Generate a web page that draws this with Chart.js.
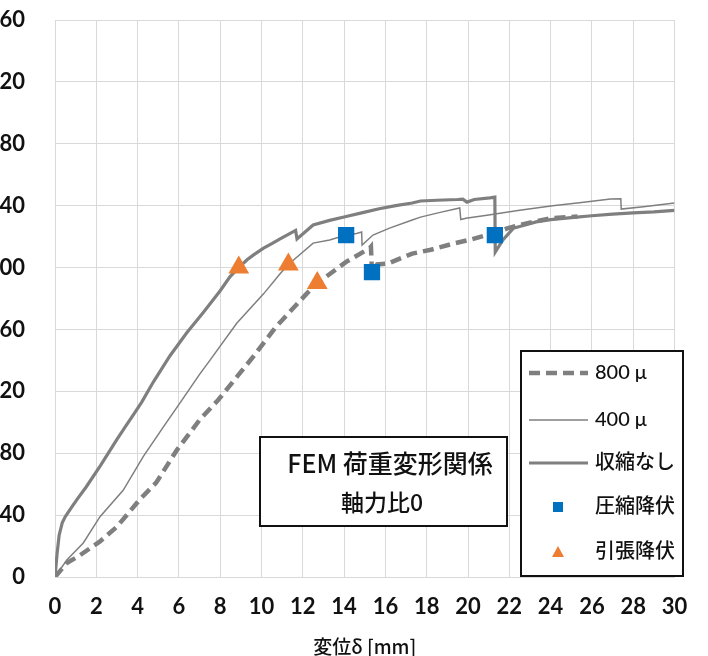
<!DOCTYPE html>
<html lang="ja">
<head>
<meta charset="utf-8">
<script src="https://cdn.jsdelivr.net/npm/chart.js@4.4.0/dist/chart.umd.min.js"></script>
<style>
html, body { margin: 0; padding: 0; width: 708px; height: 656px; overflow: hidden; background: #fff; }
#wrap { position: absolute; left: -14px; top: 0; width: 722px; height: 670px; }
</style>
</head>
<body>
<div id="wrap"><canvas id="myChart" width="722" height="670"></canvas></div>
<script>
// tick values
const xTickValues = [0, 2, 4, 6, 8, 10, 12, 14, 16, 18, 20, 22, 24, 26, 28, 30];
const yTickValues = [0, 40, 80, 120, 160, 200, 240, 280, 320, 360];

// 収縮なし
const dispNone = [0, 0.1, 0.2, 0.35, 0.5, 0.8, 1.06, 1.5, 2.2, 3.0, 3.4, 3.8, 4.2, 4.76, 5.57, 6.39, 7.18, 8.0, 8.47, 8.9, 9.3, 9.6, 10.1, 10.5, 10.9, 11.3, 11.65, 11.72, 12.5, 13.3, 14.1, 14.9, 15.7, 16.5, 17.3, 17.7, 18.5, 19.5, 19.75, 19.95, 20.3, 21.06, 21.3, 21.32, 21.7, 22.2, 22.5, 23.3, 24.0, 25.0, 26.0, 27.0, 28.0, 29.0, 30.0];
const loadNone = [0, 15, 27, 35, 39, 45, 50, 58, 72, 89, 97, 105, 113, 126, 143, 158, 171, 185, 194, 200, 205, 208, 212.5, 215.5, 218.5, 221.5, 224, 218.5, 227.5, 230.5, 233, 235.5, 238, 240, 241.7, 243, 243.5, 244, 244.2, 242.3, 244, 245, 245.5, 210, 218, 225.5, 226.5, 229.5, 231, 232.3, 233.5, 234.5, 235.3, 236, 237];

// 400μ
const disp400 = [0, 0.57, 1.37, 2.18, 3.3, 4.28, 5.25, 6.13, 7.0, 7.5, 8.8, 10.1, 10.9, 11.3, 12.5, 13.3, 14.1, 14.6, 14.85, 14.87, 15.4, 16.2, 17.3, 17.7, 18.6, 19.6, 19.65, 19.9, 21.0, 22.5, 24.1, 25.5, 26.9, 27.4, 27.42, 28.5, 30.0];
const load400 = [0, 11, 22, 39, 56, 78, 97, 114, 131, 140, 164, 183, 196, 202, 215.8, 217.8, 221, 222, 223, 214.5, 221, 225.5, 230.7, 232.6, 235.5, 238.5, 231, 231.8, 234, 237, 240, 242, 244.3, 244.5, 237.8, 239.3, 241.7];

// 800μ
const disp800 = [0, 0.57, 1.2, 2.18, 3.0, 4.1, 4.9, 5.9, 7.0, 7.9, 9.6, 10.7, 11.0, 12.2, 12.7, 14.1, 15.25, 15.3, 15.35, 15.6, 16.1, 17.3, 18.2, 19.3, 20.1, 20.9, 21.3, 21.9, 22.5, 23.3, 24.1, 25.3];
const load800 = [0, 9, 14, 23, 32.5, 50, 61, 82, 101.5, 114.4, 142.4, 161.7, 166, 183.3, 189.8, 203.7, 212.6, 213.4, 197, 202, 202.5, 209, 211.5, 215.5, 218, 221, 222, 225.3, 227.5, 230, 232, 233];

// 圧縮降伏 / 引張降伏
const compYieldDisp = [14.1, 15.35, 21.3];
const compYieldLoad = [221, 197, 221];
const tensYieldDisp = [8.9, 11.3, 12.7];
const tensYieldLoad = [200, 202, 190];

const gray = '#7f7f7f';
const blue = '#0070c0';
const orange = '#ed7d31';

function pts(xs, ys) {
  return xs.map((x, i) => ({ x: x, y: ys[i] }));
}

const canvas = document.getElementById('myChart');
const ctx = canvas.getContext('2d');

// white box with the title text
const noteBox = {
  id: 'noteBox',
  afterDraw(chart) {
    const c = chart.ctx;
    c.save();
    c.fillStyle = '#fff';
    c.fillRect(274, 437, 247, 89);
    c.lineWidth = 2;
    c.strokeStyle = '#111';
    c.strokeRect(274, 437, 247, 89);
    c.fillStyle = '#111';
    c.textAlign = 'center';
    c.textBaseline = 'middle';
    c.font = "500 25px 'Noto Sans CJK JP'";
    c.fillText('FEM 荷重変形関係', 404, 463);
    c.font = "500 23px 'Noto Sans CJK JP'";
    c.fillText('軸力比0', 396, 502);
    c.restore();
  }
};

// legend drawn inside the plot, excel style
const boxLegend = {
  id: 'boxLegend',
  afterDraw(chart) {
    const c = chart.ctx;
    const rows = [373, 420, 463, 507, 552];
    const order = [2, 1, 0, 3, 4];
    c.save();
    c.fillStyle = '#fff';
    c.fillRect(535, 351, 162, 225);
    c.lineWidth = 2;
    c.strokeStyle = '#111';
    c.strokeRect(535, 351, 162, 225);
    c.font = "500 20px 'Lato', 'Noto Sans CJK JP'";
    c.textBaseline = 'middle';
    c.textAlign = 'left';
    order.forEach((di, r) => {
      const ds = chart.data.datasets[di];
      const y = rows[r];
      if (ds.showLine) {
        c.beginPath();
        c.setLineDash(ds.borderDash || []);
        c.lineWidth = ds.borderWidth;
        c.strokeStyle = ds.borderColor;
        c.moveTo(543, y);
        c.lineTo(602, y);
        c.stroke();
        c.setLineDash([]);
      } else {
        c.fillStyle = ds.backgroundColor;
        if (ds.pointStyle === 'rect') {
          c.fillRect(567, y - 5, 10, 10);
        } else {
          c.beginPath();
          c.moveTo(572, y - 6);
          c.lineTo(578, y + 5);
          c.lineTo(566, y + 5);
          c.closePath();
          c.fill();
        }
      }
      c.fillStyle = '#111';
      c.fillText(ds.label, 609, y);
    });
    c.restore();
  }
};

const data = {
  datasets: [
    { label: '収縮なし', data: pts(dispNone, loadNone), showLine: true, borderColor: gray, borderWidth: 3.2, pointRadius: 0, order: 3 },
    { label: '400 μ', data: pts(disp400, load400), showLine: true, borderColor: gray, borderWidth: 1.5, pointRadius: 0, order: 4 },
    { label: '800 μ', data: pts(disp800, load800), showLine: true, borderColor: gray, borderWidth: 4.5, borderDash: [11, 6], pointRadius: 0, order: 5 },
    { label: '圧縮降伏', data: pts(compYieldDisp, compYieldLoad), showLine: false, pointStyle: 'rect', pointRadius: 11.5, backgroundColor: blue, borderColor: blue, borderWidth: 0, order: 1 },
    { label: '引張降伏', data: pts(tensYieldDisp, tensYieldLoad), showLine: false, pointStyle: 'triangle', pointRadius: 12, backgroundColor: orange, borderColor: orange, borderWidth: 0, order: 2 }
  ]
};

const tickFont = { family: 'Lato', size: 22, weight: 'bold' };

const config = {
  type: 'scatter',
  data: data,
  options: {
    responsive: false,
    animation: false,
    layout: { padding: { top: 20, right: 33.5, left: 0, bottom: 0 } },
    plugins: { legend: { display: false }, tooltip: { enabled: false } },
    scales: {
      x: {
        type: 'linear',
        min: 0,
        max: 30,
        afterBuildTicks: s => { s.ticks = xTickValues.map(v => ({ value: v })); },
        afterFit: s => { s.height = 93; },
        grid: { color: '#d9d9d9', lineWidth: 1, drawTicks: false },
        border: { color: '#d9d9d9' },
        ticks: { color: '#111', font: tickFont, padding: 17, maxRotation: 0, autoSkip: false },
        title: { display: true, text: '変位δ [mm]', color: '#111', font: { family: "'Noto Sans CJK JP'", size: 19, weight: '500' }, padding: { top: 0, bottom: 12 } }
      },
      y: {
        type: 'linear',
        min: 0,
        max: 360,
        afterBuildTicks: s => { s.ticks = yTickValues.map(v => ({ value: v })); },
        afterFit: s => { s.width = 69; },
        grid: { color: '#d9d9d9', lineWidth: 1, drawTicks: true, tickLength: 30, tickColor: 'transparent' },
        border: { color: '#d9d9d9' },
        ticks: { color: '#111', font: tickFont, padding: 0 }
      }
    }
  },
  plugins: [noteBox, boxLegend]
};

const myChart = new Chart(ctx, config);
</script>
</body>
</html>
